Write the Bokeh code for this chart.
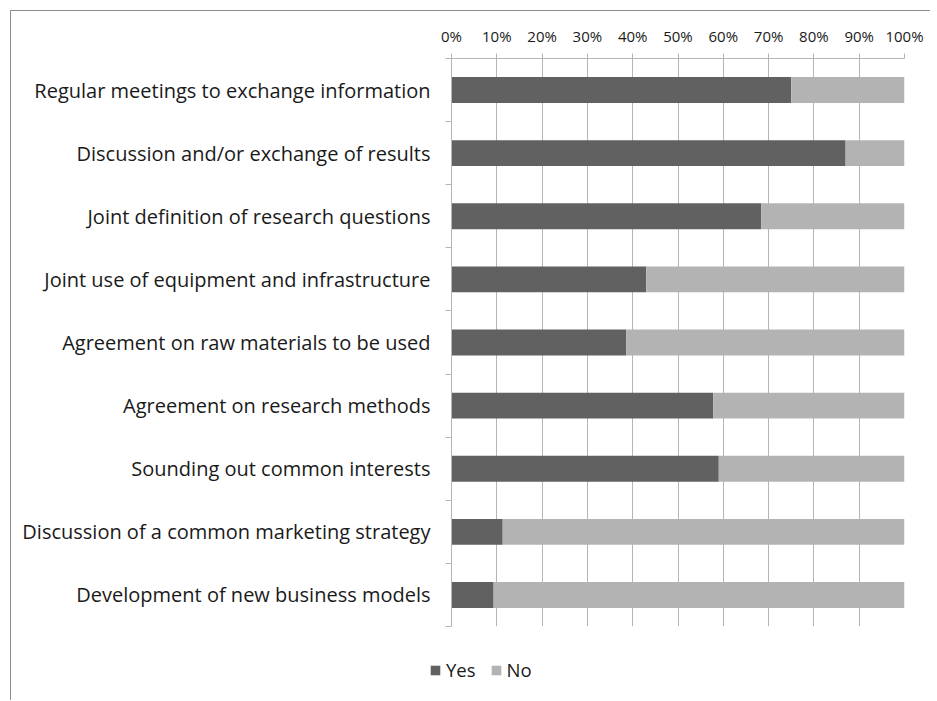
from bokeh.plotting import figure
from bokeh.models import Range1d, FixedTicker, Legend, LegendItem
from bokeh.layouts import column
from bokeh.embed import file_html
from bokeh.resources import INLINE

categories = [
    "Regular meetings to exchange information",
    "Discussion and/or exchange of results",
    "Joint definition of research questions",
    "Joint use of equipment and infrastructure",
    "Agreement on raw materials to be used",
    "Agreement on research methods",
    "Sounding out common interests",
    "Discussion of a common marketing strategy",
    "Development of new business models",
]
yes_pct = [75.0, 87.0, 68.4, 43.0, 38.6, 57.8, 59.0, 11.3, 9.3]
no_pct = [25.0, 13.0, 31.6, 57.0, 61.4, 42.2, 41.0, 88.7, 90.7]
x_ticks = [0, 10, 20, 30, 40, 50, 60, 70, 80, 90, 100]
x_tick_labels = ["0%", "10%", "20%", "30%", "40%", "50%", "60%", "70%", "80%", "90%", "100%"]
series_names = ["Yes", "No"]

FONT = "Open Sans"
TEXT = "#1a1a1a"
DARK = "#616161"
LIGHT = "#b3b3b3"
GRID = "#b5b5b5"

n = len(categories)
y_pos = [i + 0.5 for i in range(n)]
yes_end = yes_pct
no_end = [a + b for a, b in zip(yes_pct, no_pct)]

p = figure(frame_width=453, frame_height=568, output_backend="svg", toolbar_location=None,
           x_range=Range1d(0, 100), y_range=Range1d(n, 0),
           x_axis_location="above")
p.frame_align = False
p.min_border_left = 440
p.min_border_right = 27
p.min_border_top = 47
p.min_border_bottom = 10
p.outline_line_color = None
p.background_fill_color = "white"
p.border_fill_color = "white"

p.hbar(y=y_pos, left=0, right=yes_end, height=0.41, fill_color=DARK, line_color=None)
p.hbar(y=y_pos, left=yes_end, right=no_end, height=0.41, fill_color=LIGHT, line_color=None)

# x axis (top)
xt = FixedTicker(ticks=x_ticks)
xa = p.xaxis[0]
xa.ticker = xt
xa.major_label_overrides = {t: l for t, l in zip(x_ticks, x_tick_labels)}
xa.major_label_text_font = FONT
xa.major_label_text_font_size = "15px"
xa.major_label_text_color = TEXT
xa.major_tick_in = 0
xa.major_tick_out = 5
xa.major_tick_line_color = GRID
xa.minor_tick_line_color = None
xa.axis_line_color = GRID
xa.major_label_standoff = 8

p.xgrid.ticker = xt
p.xgrid.grid_line_color = GRID
p.ygrid.grid_line_color = None

# y axis (left)
yt = FixedTicker(ticks=y_pos, minor_ticks=list(range(n + 1)))
ya = p.yaxis[0]
ya.ticker = yt
ya.major_label_overrides = {y: c for y, c in zip(y_pos, categories)}
ya.major_label_text_font = FONT
ya.major_label_text_font_size = "20px"
ya.major_label_text_color = TEXT
ya.major_tick_line_color = None
ya.major_tick_in = 0
ya.major_tick_out = 0
ya.minor_tick_in = 0
ya.minor_tick_out = 6
ya.minor_tick_line_color = GRID
ya.axis_line_color = GRID
ya.major_label_standoff = 15

# legend strip below the chart (hidden copies of the series supply the legend swatches)
lf = figure(width=920, height=65, output_backend="svg", toolbar_location=None,
            x_range=Range1d(0, 920), y_range=Range1d(0, 65),
            x_axis_type=None, y_axis_type=None, min_border=0)
lf.frame_align = False
lf.outline_line_color = None
lf.xgrid.grid_line_color = None
lf.ygrid.grid_line_color = None
lf.border_fill_color = "white"
lg_yes = lf.hbar(y=y_pos, left=0, right=yes_end, height=0.41,
                 fill_color=DARK, line_color=None, visible=False)
lg_no = lf.hbar(y=y_pos, left=yes_end, right=no_end, height=0.41,
                fill_color=LIGHT, line_color=None, visible=False)

legend = Legend(items=[LegendItem(label=series_names[0], renderers=[lg_yes]),
                       LegendItem(label=series_names[1], renderers=[lg_no])],
                orientation="horizontal", location=(418, 19))
legend.glyph_width = 12
legend.glyph_height = 12
legend.label_text_font = FONT
legend.label_text_font_size = "18.5px"
legend.label_text_color = TEXT
legend.label_standoff = 5
legend.spacing = 14
legend.padding = 0
legend.margin = 0
legend.border_line_color = None
legend.background_fill_alpha = 0
legend.inactive_fill_alpha = 0
lf.add_layout(legend)

layout = column(p, lf, spacing=0,
                styles={"margin-left": "11px", "margin-top": "11px",
                        "box-shadow": "-1px -1px 0 0 #8c8c8c"})

open("out.html", "w").write(file_html(layout, INLINE))
